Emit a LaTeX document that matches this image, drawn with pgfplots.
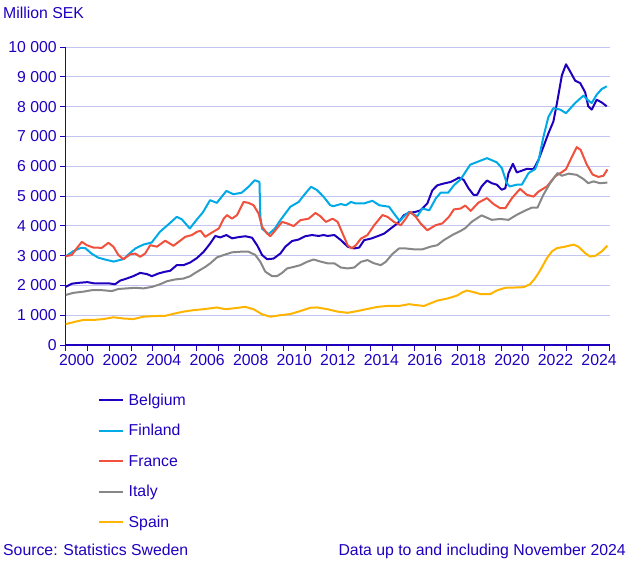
\documentclass[border=0pt]{standalone}
\usepackage{pgfplots}
\pgfplotsset{compat=1.18}
\usepackage{fontspec}
\setmainfont{Liberation Sans}
\definecolor{scbtext}{HTML}{1E00BE}
\definecolor{gridc}{HTML}{C4C4F0}
\definecolor{cBel}{HTML}{1E00BE}
\definecolor{cFin}{HTML}{00AAE6}
\definecolor{cFra}{HTML}{F0503C}
\definecolor{cIta}{HTML}{878787}
\definecolor{cSpa}{HTML}{FFB400}
\newcommand{\fs}{\fontsize{15.8pt}{19pt}\selectfont}
\begin{document}
\begin{tikzpicture}
\path (0pt,0pt) rectangle (635pt,-562pt);
\node[anchor=base west, inner sep=0pt, font=\fs, text=scbtext] at (3pt,-19pt) {Million SEK};
\node[anchor=base west, inner sep=0pt, font=\fs, text=scbtext] at (3pt,-555pt) {Source: Statistics Sweden};
\node[anchor=base east, inner sep=0pt, font=\fs, text=scbtext] at (626pt,-555pt) {Data up to and including November 2024};
\begin{axis}[
  at={(65.7pt,-345pt)}, anchor=south west,
  scale only axis, width=544.3pt, height=298pt,
  xmin=2000, xmax=2025, ymin=0, ymax=10000,
  scaled y ticks=false, scaled x ticks=false,
  axis x line*=bottom, axis y line*=left,
  axis line style={scbtext, line width=1.1pt, -},
  xtick={2000,...,2025},
  xticklabels={2000,,2002,,2004,,2006,,2008,,2010,,2012,,2014,,2016,,2018,,2020,,2022,,2024,},
  xticklabel style={xshift=10.886pt},
  ytick={0,1000,...,10000},
  yticklabels={0,1 000,2 000,3 000,4 000,5 000,6 000,7 000,8 000,9 000,10 000},
  tick align=outside, major tick length=5.5pt,
  tick style={scbtext, line width=1pt},
  ymajorgrids, grid style={gridc, line width=0.9pt},
  ticklabel style={font=\fs, text=scbtext},
  /pgf/number format/assume math mode=true,
  every axis plot/.append style={line width=2pt, line join=round},
  legend image code/.code={\draw[#1] (0pt,0pt) -- (24pt,0pt);},
  legend style={at={(axis description cs:0,0)}, anchor=north west,
    xshift=32.3pt, yshift=-47pt, draw=none, fill=none, inner sep=0pt,
    row sep=14.5pt, font=\fs, text=scbtext,
    nodes={inner sep=0pt, text height=13pt, text depth=3pt},
    /tikz/every odd column/.append style={column sep=4.5pt}},
  legend cell align=left,
]
\addplot[cBel] coordinates {
(2000.0,1950)(2000.3,2060)(2000.66,2090)(2001.0,2110)(2001.3,2070)(2001.6,2070)(2001.96,2070)
(2002.27,2040)(2002.5,2160)(2002.8,2230)(2003.1,2310)(2003.42,2420)(2003.73,2380)(2003.96,2310)
(2004.26,2400)(2004.57,2460)(2004.8,2490)(2005.1,2680)(2005.41,2680)(2005.72,2770)(2006.03,2920)
(2006.34,3130)(2006.64,3410)(2006.87,3660)(2007.1,3610)(2007.38,3690)(2007.64,3580)(2007.94,3620)
(2008.25,3650)(2008.56,3600)(2008.79,3350)(2009.02,3020)(2009.25,2880)(2009.55,2900)(2009.86,3070)
(2010.09,3300)(2010.4,3490)(2010.7,3540)(2011.0,3650)(2011.31,3690)(2011.62,3660)(2011.85,3690)
(2012.03,3660)(2012.34,3690)(2012.64,3520)(2012.95,3300)(2013.25,3240)(2013.48,3270)(2013.71,3520)
(2014.02,3570)(2014.32,3650)(2014.63,3740)(2014.93,3910)(2015.24,4080)(2015.54,4360)(2015.77,4430)
(2016.08,4470)(2016.3,4520)(2016.61,4750)(2016.84,5190)(2017.07,5360)(2017.37,5420)(2017.68,5470)
(2017.9,5550)(2018.06,5620)(2018.28,5540)(2018.5,5260)(2018.73,5040)(2018.9,5040)(2019.1,5320)
(2019.35,5520)(2019.57,5430)(2019.8,5380)(2020.03,5210)(2020.19,5260)(2020.34,5770)(2020.54,6080)
(2020.72,5790)(2020.95,5850)(2021.18,5910)(2021.49,5900)(2021.72,6220)(2021.94,6650)(2022.17,7100)
(2022.4,7500)(2022.56,8100)(2022.79,9050)(2022.98,9420)(2023.17,9180)(2023.4,8870)(2023.63,8790)
(2023.86,8480)(2024.0,8010)(2024.16,7900)(2024.39,8230)(2024.62,8140)(2024.85,8010)
};
\addlegendentry{Belgium}
\addplot[cFin] coordinates {
(2000.0,2970)(2000.35,3150)(2000.7,3260)(2000.9,3250)(2001.2,3060)(2001.5,2930)(2001.8,2870)
(2002.2,2800)(2002.65,2880)(2002.9,3050)(2003.2,3240)(2003.57,3370)(2003.95,3440)(2004.33,3800)
(2004.8,4100)(2005.1,4300)(2005.33,4220)(2005.7,3910)(2006.0,4190)(2006.3,4450)(2006.63,4860)
(2006.94,4770)(2007.38,5170)(2007.7,5060)(2008.08,5110)(2008.4,5310)(2008.68,5530)(2008.9,5470)
(2008.94,4300)(2009.02,3900)(2009.32,3720)(2009.6,3900)(2009.86,4190)(2010.32,4640)(2010.7,4800)
(2011.0,5080)(2011.27,5310)(2011.54,5200)(2011.85,4970)(2012.15,4690)(2012.3,4660)(2012.64,4730)
(2012.87,4690)(2013.1,4800)(2013.33,4750)(2013.7,4750)(2014.09,4840)(2014.4,4690)(2014.85,4640)
(2015.08,4410)(2015.34,4160)(2015.6,4360)(2015.77,4470)(2016.15,4320)(2016.38,4580)(2016.7,4520)
(2017.0,4920)(2017.22,5110)(2017.57,5110)(2017.83,5360)(2018.14,5560)(2018.58,6050)(2018.96,6160)
(2019.35,6270)(2019.8,6130)(2020.03,5940)(2020.26,5430)(2020.39,5320)(2020.72,5380)(2020.95,5380)
(2021.26,5770)(2021.56,5900)(2021.72,6200)(2021.94,6980)(2022.17,7650)(2022.4,7950)(2022.71,7900)
(2022.98,7780)(2023.4,8120)(2023.78,8370)(2023.96,8230)(2024.16,8120)(2024.39,8400)(2024.62,8590)
(2024.85,8680)
};
\addlegendentry{Finland}
\addplot[cFra] coordinates {
(2000.0,2980)(2000.28,3020)(2000.5,3240)(2000.74,3460)(2000.97,3350)(2001.27,3270)(2001.66,3260)
(2001.96,3430)(2002.19,3300)(2002.42,3020)(2002.65,2880)(2002.96,3040)(2003.19,3070)(2003.42,2960)
(2003.65,3070)(2003.88,3350)(2004.19,3300)(2004.57,3500)(2004.95,3330)(2005.26,3500)(2005.49,3630)
(2005.8,3690)(2006.03,3800)(2006.2,3830)(2006.41,3630)(2006.64,3740)(2007.03,3910)(2007.26,4240)
(2007.41,4360)(2007.64,4240)(2007.87,4360)(2008.17,4800)(2008.4,4770)(2008.63,4690)(2008.86,4410)
(2009.02,3970)(2009.25,3740)(2009.4,3650)(2009.63,3850)(2009.94,4130)(2010.17,4080)(2010.47,3990)
(2010.78,4190)(2011.16,4240)(2011.47,4430)(2011.7,4320)(2011.95,4130)(2012.26,4240)(2012.49,4130)
(2012.72,3740)(2012.95,3350)(2013.13,3240)(2013.33,3350)(2013.56,3570)(2013.86,3690)(2014.17,4020)
(2014.55,4360)(2014.78,4300)(2015.08,4130)(2015.39,4020)(2015.62,4240)(2015.82,4470)(2016.08,4300)
(2016.3,4080)(2016.61,3850)(2016.99,4020)(2017.3,4080)(2017.6,4300)(2017.83,4550)(2018.14,4580)
(2018.35,4680)(2018.6,4500)(2018.96,4780)(2019.35,4930)(2019.65,4730)(2019.96,4590)(2020.19,4590)
(2020.5,4930)(2020.87,5240)(2021.18,5040)(2021.49,4980)(2021.72,5150)(2022.1,5320)(2022.48,5660)
(2022.79,5800)(2022.98,5900)(2023.24,6300)(2023.47,6640)(2023.65,6550)(2023.93,6060)(2024.2,5720)
(2024.47,5640)(2024.7,5680)(2024.88,5890)
};
\addlegendentry{France}
\addplot[cIta] coordinates {
(2000.0,1680)(2000.35,1750)(2000.81,1790)(2001.2,1840)(2001.66,1840)(2002.12,1810)(2002.42,1880)
(2002.81,1900)(2003.19,1920)(2003.57,1900)(2003.96,1950)(2004.34,2040)(2004.65,2140)(2005.03,2200)
(2005.41,2230)(2005.72,2310)(2005.95,2420)(2006.41,2620)(2006.64,2740)(2006.95,2940)(2007.26,3020)
(2007.64,3110)(2008.02,3130)(2008.4,3130)(2008.71,3020)(2008.94,2790)(2009.17,2460)(2009.48,2310)
(2009.7,2310)(2009.94,2420)(2010.17,2570)(2010.47,2620)(2010.78,2680)(2011.08,2790)(2011.39,2870)
(2011.7,2800)(2012.03,2740)(2012.34,2740)(2012.64,2600)(2012.95,2570)(2013.25,2600)(2013.56,2790)
(2013.86,2850)(2014.17,2740)(2014.47,2680)(2014.7,2790)(2015.0,3050)(2015.31,3240)(2015.62,3240)
(2016.0,3210)(2016.38,3210)(2016.76,3300)(2017.07,3350)(2017.37,3520)(2017.76,3690)(2018.14,3830)
(2018.35,3920)(2018.66,4140)(2019.1,4350)(2019.57,4200)(2019.96,4230)(2020.34,4200)(2020.72,4370)
(2021.1,4510)(2021.41,4610)(2021.67,4610)(2021.94,5040)(2022.25,5430)(2022.59,5770)(2022.79,5680)
(2023.1,5750)(2023.47,5710)(2023.78,5570)(2024.0,5430)(2024.24,5490)(2024.54,5430)(2024.88,5450)
};
\addlegendentry{Italy}
\addplot[cSpa] coordinates {
(2000.0,700)(2000.43,780)(2000.81,840)(2001.27,840)(2001.73,870)(2002.19,930)(2002.65,890)
(2003.11,870)(2003.57,950)(2004.03,970)(2004.57,980)(2005.03,1060)(2005.41,1120)(2005.87,1170)
(2006.18,1190)(2006.64,1230)(2006.95,1260)(2007.33,1200)(2007.71,1230)(2008.25,1280)(2008.63,1200)
(2009.02,1030)(2009.4,950)(2009.86,1000)(2010.32,1040)(2010.78,1140)(2011.24,1250)(2011.54,1260)
(2012.03,1200)(2012.49,1120)(2012.95,1080)(2013.4,1140)(2013.86,1210)(2014.32,1280)(2014.78,1310)
(2015.31,1310)(2015.77,1370)(2016.08,1340)(2016.46,1310)(2016.76,1400)(2017.07,1490)(2017.53,1560)
(2017.98,1660)(2018.2,1760)(2018.43,1830)(2018.81,1760)(2019.04,1710)(2019.5,1710)(2019.8,1830)
(2020.19,1920)(2020.65,1930)(2021.03,1940)(2021.33,2040)(2021.56,2240)(2021.79,2500)(2022.1,2910)
(2022.33,3140)(2022.56,3250)(2022.94,3300)(2023.32,3370)(2023.55,3300)(2023.86,3080)(2024.09,2970)
(2024.32,2990)(2024.62,3140)(2024.88,3330)
};
\addlegendentry{Spain}
\end{axis}
\end{tikzpicture}
\end{document}
